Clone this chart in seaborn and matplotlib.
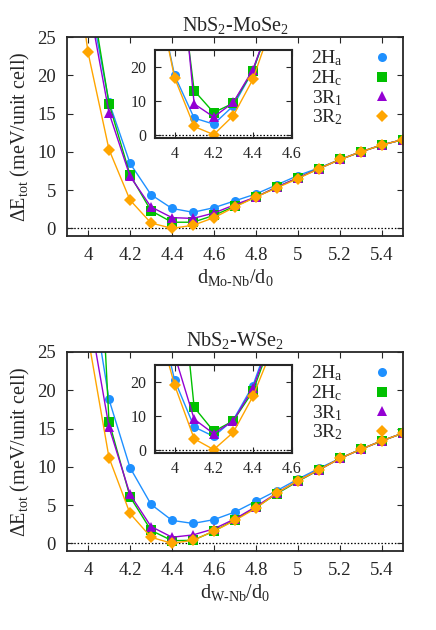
import numpy as np
import pandas as pd
import matplotlib
matplotlib.use("Agg")
import matplotlib.pyplot as plt
from matplotlib.lines import Line2D
import seaborn as sns

# --- data ---
phases = ["2H_a", "2H_c", "3R_1", "3R_2"]
labels = [r"2H$_\mathrm{a}$", r"2H$_\mathrm{c}$", r"3R$_\mathrm{1}$", r"3R$_\mathrm{2}$"]
colors = ["#1e90ff", "#00c000", "#9400d3", "#ffa500"]
markers = ["o", "s", "^", "D"]

d_main = [3.9, 4.0, 4.1, 4.2, 4.3, 4.4, 4.5, 4.6, 4.7, 4.8, 4.9, 5.0, 5.1, 5.2, 5.3, 5.4, 5.5]
d_inset = [3.9, 4.0, 4.1, 4.2, 4.3, 4.4, 4.5]

# NbS2-MoSe2, main panel
mo_2Ha = [55, 31, 16.5, 8.5, 4.4, 2.6, 2.1, 2.7, 3.6, 4.5, 5.7, 6.9, 7.9, 9.0, 10.0, 10.9, 11.6]
mo_2Hc = [60, 33, 16.3, 7.0, 2.3, 0.8, 0.8, 1.7, 2.9, 4.1, 5.4, 6.6, 7.8, 9.0, 10.0, 10.9, 11.6]
mo_3R1 = [58, 30, 15.1, 6.8, 2.8, 1.4, 1.3, 2.0, 3.1, 4.1, 5.4, 6.6, 7.8, 9.0, 10.0, 10.9, 11.6]
mo_3R2 = [43, 23, 10.3, 3.7, 0.7, 0.0, 0.4, 1.4, 2.8, 4.1, 5.3, 6.5, 7.8, 9.0, 10.0, 10.9, 11.6]
# NbS2-MoSe2, inset
mo_in_2Ha = [45, 17.5, 4.9, 3.1, 8.5, 18.8, 35]
mo_in_2Hc = [80, 60, 13.0, 6.5, 9.3, 18.8, 35]
mo_in_3R1 = [90, 70, 9.1, 5.2, 9.5, 19.2, 35]
mo_in_3R2 = [45, 16.8, 2.4, 0.0, 5.6, 16.3, 33]

# NbS2-WSe2, main panel
w_2Ha = [65, 36, 18.8, 9.9, 5.1, 3.0, 2.6, 3.1, 4.1, 5.5, 6.9, 8.4, 9.8, 11.1, 12.3, 13.4, 14.4]
w_2Hc = [100, 70, 15.9, 6.1, 1.7, 0.35, 0.4, 1.6, 3.1, 4.7, 6.5, 8.1, 9.6, 11.1, 12.3, 13.4, 14.4]
w_3R1 = [55, 31, 15.2, 6.4, 2.2, 0.8, 1.1, 1.9, 3.2, 4.8, 6.6, 8.2, 9.6, 11.1, 12.3, 13.4, 14.4]
w_3R2 = [45, 27, 11.2, 3.9, 0.8, 0.0, 0.4, 1.6, 3.0, 4.6, 6.6, 8.2, 9.6, 11.1, 12.3, 13.4, 14.4]
# NbS2-WSe2, inset
w_in_2Ha = [45, 20.6, 6.7, 3.9, 8.8, 18.9, 35]
w_in_2Hc = [90, 70, 12.5, 5.4, 8.5, 17.2, 33]
w_in_3R1 = [50, 28, 9.0, 4.7, 8.5, 18.1, 34]
w_in_3R2 = [40, 19.1, 3.2, 0.0, 5.1, 15.7, 30]


def long_df(x, series):
    rows = []
    for name, ys in zip(phases, series):
        for xi, yi in zip(x, ys):
            rows.append({"d": xi, "E": yi, "phase": name})
    return pd.DataFrame(rows)


sns.set_style("ticks")
plt.rcParams["font.family"] = ["Liberation Serif", "DejaVu Serif"]
plt.rcParams["mathtext.fontset"] = "custom"
plt.rcParams["mathtext.rm"] = "Liberation Serif"
plt.rcParams["mathtext.it"] = "Liberation Serif:italic"
plt.rcParams["mathtext.default"] = "rm"

fig = plt.figure(figsize=(4.36, 6.3), dpi=100)

W, H = 436.0, 630.0


def box(l, t, r, b):
    return [l / W, 1 - b / H, (r - l) / W, (b - t) / H]


def draw(ax, df, lw=1.0, ms=6.5):
    sns.lineplot(data=df, x="d", y="E", hue="phase", style="phase",
                 palette=dict(zip(phases, colors)),
                 markers=dict(zip(phases, markers)),
                 dashes=False, legend=False, ax=ax, sort=True,
                 lw=lw, markersize=ms, markeredgewidth=0)
    ax.axhline(0, color="black", ls=(0, (1.2, 1.5)), lw=0.9, zorder=0)
    ax.tick_params(direction="in", top=True, right=True, length=4,
                   width=0.8, labelsize=13.5, pad=8)
    for s in ax.spines.values():
        s.set_linewidth(1.3)
    ax.set_xlabel("")
    ax.set_ylabel("")


def panel(top, title, xlabel, main_series, inset_series):
    ax = fig.add_axes(box(67, top, 403, top + 199))
    draw(ax, long_df(d_main, main_series))
    ax.set_xlim(3.9, 5.5)
    ax.set_ylim(-1, 25)
    ax.set_xticks([4, 4.2, 4.4, 4.6, 4.8, 5, 5.2, 5.4])
    ax.set_xticklabels(["4", "4.2", "4.4", "4.6", "4.8", "5", "5.2", "5.4"])
    ax.set_yticks([0, 5, 10, 15, 20, 25])
    ax.set_title(title, fontsize=14.5, pad=4)
    ax.set_xlabel(xlabel, fontsize=14.5, labelpad=2)
    ax.set_ylabel(r"$\Delta$E$_\mathrm{tot}$ (meV/unit cell)", fontsize=14.5, labelpad=4)

    handles = [Line2D([], [], ls="none", marker=m, color=c, markersize=6.5,
                      markeredgewidth=0) for m, c in zip(markers, colors)]
    ax.legend(handles, labels, loc="upper right", bbox_to_anchor=(1.0, 1.0),
              frameon=False, markerfirst=False, fontsize=14,
              handlelength=1.0, handletextpad=1.5, labelspacing=0.0,
              borderaxespad=0.2)

    ins = fig.add_axes(box(155, top + 13, 292, top + 101))
    ins.set_facecolor("white")
    draw(ins, long_df(d_inset, inset_series))
    ins.set_xlim(3.9, 4.6)
    ins.set_ylim(-1, 25)
    ins.set_xticks([4, 4.2, 4.4, 4.6])
    ins.set_xticklabels(["4", "4.2", "4.4", "4.6"])
    ins.set_yticks([0, 10, 20])
    ins.tick_params(labelsize=11.5, pad=6)
    for s in ins.spines.values():
        s.set_linewidth(1.5)
    return ax, ins


panel(37, r"NbS$_2$-MoSe$_2$", r"d$_\mathrm{Mo\text{-}Nb}$/d$_0$",
      [mo_2Ha, mo_2Hc, mo_3R1, mo_3R2],
      [mo_in_2Ha, mo_in_2Hc, mo_in_3R1, mo_in_3R2])
panel(352, r"NbS$_2$-WSe$_2$", r"d$_\mathrm{W\text{-}Nb}$/d$_0$",
      [w_2Ha, w_2Hc, w_3R1, w_3R2],
      [w_in_2Ha, w_in_2Hc, w_in_3R1, w_in_3R2])

fig.savefig("out.png", dpi=100)
